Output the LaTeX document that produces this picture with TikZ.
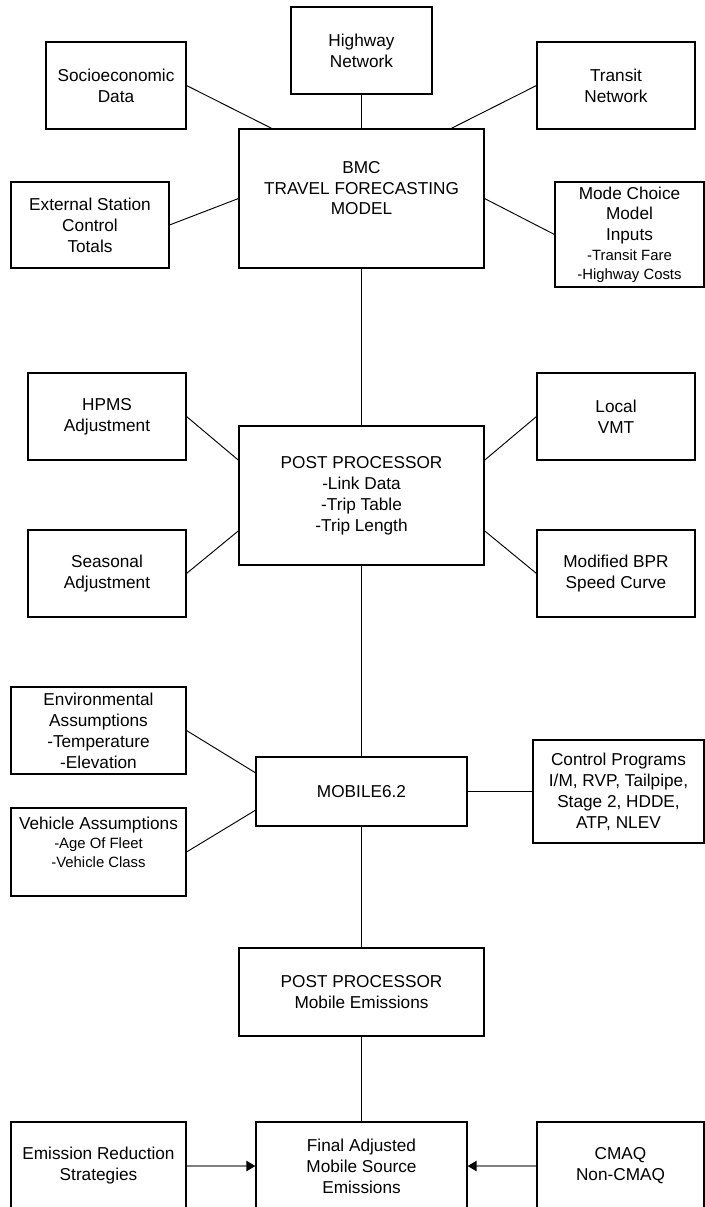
\documentclass[tikz,border=0pt]{standalone}
\usepackage{fontspec}
\setmainfont{Liberation Sans}
\usetikzlibrary{arrows.meta}
\newcommand{\sm}{\fontsize{12.7pt}{16.2pt}\selectfont}

\begin{document}
\begin{tikzpicture}[
	box/.style={draw, line width=0.9pt, align=center, inner sep=1pt, font=\fontsize{14.7pt}{17.9pt}\selectfont},
	link/.style={line width=0.8pt},
	feed/.style={line width=1.8pt, color=gray, -{Triangle[length=0.27cm, width=0.3cm, color=black]}}]
	\useasboundingbox (0,0) rectangle (21.12,-36.21);

	\node[box, minimum width=4.23cm, minimum height=2.61cm](hwy) at (10.845,-1.515) {Highway\\Network};
	\node[box, minimum width=4.2cm, minimum height=2.61cm](soc) at (3.48,-2.565) {Socioeconomic\\Data};
	\node[box, minimum width=4.74cm, minimum height=2.61cm](trn) at (18.48,-2.565) {Transit\\Network};
	\node[box, minimum width=7.35cm, minimum height=4.17cm](bmc) at (10.845,-5.955) {BMC\\TRAVEL FORECASTING\\MODEL\\\mbox{}};
	\node[box, minimum width=4.74cm, minimum height=2.58cm](ext) at (2.7,-6.75) {External Station\\Control\\Totals};
	\node[box, minimum width=4.47cm, minimum height=3.15cm](mode) at (18.885,-7.035) {Mode Choice\\Model\\Inputs\\[-1.5pt]{\sm -Transit Fare}\\[-1.5pt]{\sm -Highway Costs}};

	\node[box, minimum width=4.74cm, minimum height=2.61cm](hpms) at (3.21,-12.495) {HPMS\\Adjustment};
	\node[box, minimum width=4.74cm, minimum height=2.61cm](vmt) at (18.48,-12.495) {Local\\VMT};
	\node[box, minimum width=7.35cm, minimum height=4.17cm](pp) at (10.845,-14.865) {POST PROCESSOR\\-Link Data\\-Trip Table\\-Trip Length};
	\node[box, minimum width=4.74cm, minimum height=2.61cm](seas) at (3.21,-17.205) {Seasonal\\Adjustment};
	\node[box, minimum width=4.74cm, minimum height=2.61cm](bpr) at (18.48,-17.205) {Modified BPR\\Speed Curve};

	\node[box, minimum width=5.25cm, minimum height=2.61cm](env) at (2.955,-21.915) {Environmental\\Assumptions\\-Temperature\\-Elevation};
	\node[box, minimum width=5.25cm, minimum height=2.64cm](veh) at (2.955,-25.56) {Vehicle Assumptions\\[-1.5pt]{\sm -Age Of Fleet}\\[-1.5pt]{\sm -Vehicle Class}\\[-1.5pt]\mbox{}};
	\node[box, minimum width=6.33cm, minimum height=2.07cm](mob) at (10.845,-23.745) {MOBILE6.2};
	\node[box, minimum width=5.13cm, minimum height=3.09cm](ctrl) at (18.555,-23.745) {Control Programs\\I/M, RVP, Tailpipe,\\Stage 2, HDDE,\\ATP, NLEV};

	\node[box, minimum width=7.35cm, minimum height=2.64cm](ppm) at (10.845,-29.76) {POST PROCESSOR\\Mobile Emissions};
	\node[box, minimum width=5.25cm, minimum height=2.64cm](red) at (2.955,-34.98) {Emission Reduction\\Strategies};
	\node[box, minimum width=6.33cm, minimum height=2.64cm](fin) at (10.845,-34.98) {Final Adjusted\\Mobile Source\\Emissions};
	\node[box, minimum width=5.01cm, minimum height=2.64cm](cmaq) at (18.615,-34.98) {CMAQ\\Non-CMAQ};

	\draw[link](soc.east) -- (bmc.142);
	\draw[link](hwy.south) -- (bmc.north);
	\draw[link](trn.west) -- (bmc.38);
	\draw[link](ext.east) -- (bmc.west);
	\draw[link](mode.west) -- (bmc.east);
	\draw[link](bmc.south) -- (pp.north);

	\draw[link](hpms.east) -- (pp.164);
	\draw[link](vmt.west) -- (pp.16);
	\draw[link](seas.east) -- (pp.196);
	\draw[link](bpr.west) -- (pp.-16);
	\draw[link](pp.south) -- (mob.north);

	\draw[link](env.east) -- (mob.170);
	\draw[link](veh.east) -- (mob.190);
	\draw[link](mob.east) -- (ctrl.west);
	\draw[link](mob.south) -- (ppm.north);
	\draw[link](ppm.south) -- (fin.north);

	\draw[feed](red.east) -- (fin.west);
	\draw[feed](cmaq.west) -- (fin.east);
\end{tikzpicture}
\end{document}
